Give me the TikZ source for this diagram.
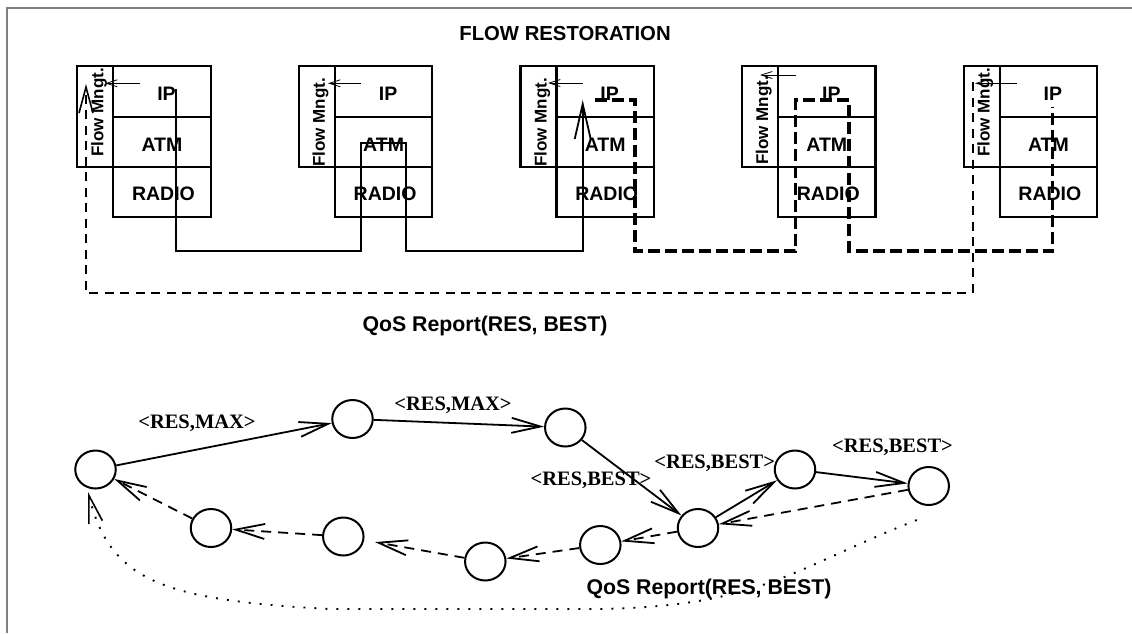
\documentclass[tikz,border=0pt]{standalone}
\usepackage{fontspec}
\setmainfont{Liberation Sans}
\newfontfamily\timesfont{Liberation Serif}
\usetikzlibrary{arrows.meta,shapes.geometric}

\begin{document}
\begin{tikzpicture}[x=1pt,y=-1pt,
  box/.style={line width=2.2pt},
  lbl/.style={font=\bfseries\fontsize{19.5}{20}\selectfont, inner sep=0},
  fm/.style={font=\bfseries\fontsize{17}{18}\selectfont, rotate=90, anchor=base west, inner sep=0},
  ctl/.style={line width=0.8pt, -{Straight Barb[length=11pt,width=7pt,line width=0.8pt]}},
  flowA/.style={line width=1.8pt},
  flowB/.style={line width=3.4pt, dash pattern=on 12pt off 5pt},
  report/.style={line width=1.8pt, dash pattern=on 9pt off 6.5pt},
  host/.style={ellipse, draw, line width=2pt, minimum width=40.5pt, minimum height=38pt, inner sep=0},
  hop/.style={line width=1.8pt, -{Straight Barb[length=29pt,width=15pt,line width=1.8pt]}},
  back/.style={hop, dash pattern=on 10pt off 7pt},
  rate/.style={font=\timesfont\bfseries\fontsize{20.5}{21}\selectfont, inner sep=0},
  qos/.style={font=\bfseries\fontsize{21.3}{22}\selectfont, inner sep=0},
  title/.style={font=\bfseries\fontsize{20.3}{21}\selectfont, inner sep=0}
]
\useasboundingbox (0,0) rectangle (1132,633);

% page frame
\draw[line width=2pt, color=black!50] (6.5,633) -- (6.5,7.5) -- (1132,7.5);

\node[title] (ttl) at (565,34) {FLOW RESTORATION};

% five protocol stacks, each with its flow management block
\foreach \i/\fb in {0/157,1/167,2/167,3/165,4/157} {
  \pgfmathsetmacro\xo{77.3+221.6*\i}
  \draw[box] (\xo,66) rectangle ++(36,101.3);
  \draw[box] (\xo+36,66) rectangle ++(97.4,151.3);
  \draw[box] (\xo+36,116.7) -- ++(97.4,0);
  \draw[box] (\xo+36,167.3) -- ++(97.4,0);
  \node[fm] (fm\i) at (\xo+26,\fb) {Flow Mngt.};
}

% flow management control arrows
\draw[ctl] (140,83.3) -- (105,83.3);
\draw[ctl] (360.7,83.3) -- (328,83.3);
\draw[ctl] (582.7,83) -- (548,83);
\draw[ctl] (795.7,75) -- (760,75);
\draw[ctl] (1016.7,83.3) -- (975,83.3);

% original flow path
\draw[flowA, -{Straight Barb[length=35pt,width=16pt,line width=1.8pt]}]
  (175.7,89) -- (175.7,251) -- (361,251) -- (361,143.3) -- (405.7,143.3)
  -- (405.7,251) -- (582.7,251) -- (582.7,100);

% restored flow path
\draw[flowB] (595,100) -- (635,100) -- (635,251) -- (795.7,251) -- (795.7,100)
  -- (849,100) -- (849,251) -- (1052.7,251) -- (1052.7,107);

% QoS report path
\draw[report, -{Straight Barb[length=26pt,width=14pt,line width=1.6pt]}]
  (972.7,82) -- (972.7,292.7) -- (86,292.7) -- (86,84);

% stack layer labels
\foreach \i in {0,...,4} {
  \pgfmathsetmacro\xc{77.3+221.6*\i+36+48.7}
  \node[lbl] (ip\i) at (\xc+4.5,94) {IP};
  \node[lbl] (atm\i) at (\xc,145) {ATM};
  \node[lbl] (radio\i) at (\xc+1.5,194) {RADIO};
}

\node[qos] (qtop) at (485,326) {QoS Report(RES, BEST)};

% routers of the lower graph
\node[host] (n1) at (95.5,469.5) {};
\node[host] (n2) at (352.5,419) {};
\node[host] (n3) at (211,528) {};
\node[host] (n4) at (343.3,536.5) {};
\node[host] (n5) at (485.3,561.5) {};
\node[host] (n6) at (565.3,427.5) {};
\node[host] (n7) at (600.3,545) {};
\node[host] (n8) at (698,528) {};
\node[host] (n9) at (795,469.5) {};
\node[host] (n10) at (928.7,486) {};

% forward reservation
\draw[hop] (n1) -- (n2);
\draw[hop] (n2) -- (n6);
\draw[hop] (n6) -- (n8);
\draw[hop] (n8) -- (n9);
\draw[hop] (n9) -- (n10);

% backward path
\draw[back] (n10) -- (n8);
\draw[back] (n8) -- (n7);
\draw[back] (n7) -- (n5);
\draw[back, shorten >=11pt] (n5) -- (n4);
\draw[back] (n4) -- (n3);
\draw[back] (n3) -- (n1);

\node[rate] (r1) at (197,423) {<RES,MAX>};
\node[rate] (r2) at (453,405.5) {<RES,MAX>};
\node[rate] (r3) at (591,480.5) {<RES,BEST>};
\node[rate] (r4) at (714.7,463) {<RES,BEST>};
\node[rate] (r5) at (892.5,447.5) {<RES,BEST>};

% end-to-end QoS report
\coordinate (qs) at (916.7,520);
\coordinate (qe) at (88,492);
\draw[line width=1.9pt, dash pattern=on 1.9pt off 9.1pt,
      -{Straight Barb[length=28pt,width=14pt,line width=1.6pt]}]
  (qs) .. controls (790,570) and (760,606) .. (600,609)
  -- (330,609) .. controls (160,600) and (110,580) .. (qe);

\node[qos] (qbot) at (709,589) {QoS Report(RES, BEST)};
\end{tikzpicture}
\end{document}
